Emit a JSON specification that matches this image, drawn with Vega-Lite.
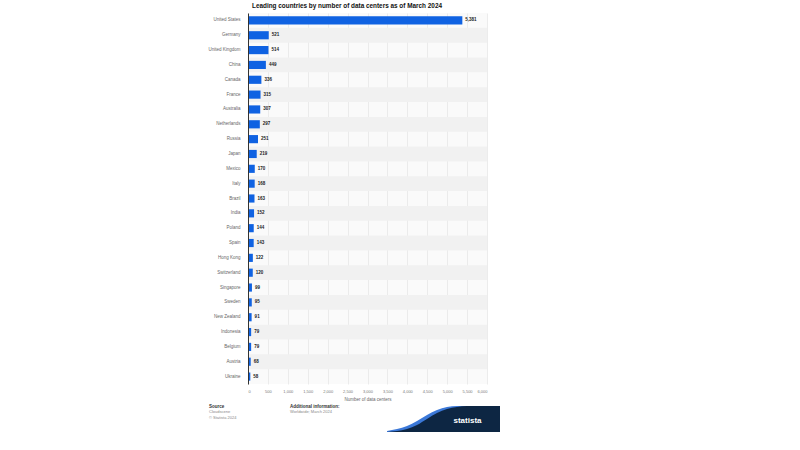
{
  "$schema": "https://vega.github.io/schema/vega-lite/v6.json",
  "background": "white",
  "padding": {"left": 207, "top": 2, "right": 0, "bottom": 0},
  "title": {
    "text": "Leading countries by number of data centers as of March 2024",
    "fontSize": 6.4,
    "font": "Liberation Sans",
    "fontWeight": "bold",
    "color": "#111111",
    "anchor": "middle",
    "frame": "bounds",
    "dx": -7,
    "offset": 4
  },
  "config": {
    "font": "Liberation Sans",
    "view": {"stroke": null}
  },
  "spacing": 2,
  "vconcat": [
    {
      "width": 239,
      "height": 371,
      "view": {"fill": "#fafafa"},
      "data": {
        "values": [
          {"country": "United States", "centers": 5381},
          {"country": "Germany", "centers": 521},
          {"country": "United Kingdom", "centers": 514},
          {"country": "China", "centers": 449},
          {"country": "Canada", "centers": 336},
          {"country": "France", "centers": 315},
          {"country": "Australia", "centers": 307},
          {"country": "Netherlands", "centers": 297},
          {"country": "Russia", "centers": 251},
          {"country": "Japan", "centers": 219},
          {"country": "Mexico", "centers": 170},
          {"country": "Italy", "centers": 168},
          {"country": "Brazil", "centers": 163},
          {"country": "India", "centers": 152},
          {"country": "Poland", "centers": 144},
          {"country": "Spain", "centers": 143},
          {"country": "Hong Kong", "centers": 122},
          {"country": "Switzerland", "centers": 120},
          {"country": "Singapore", "centers": 99},
          {"country": "Sweden", "centers": 95},
          {"country": "New Zealand", "centers": 91},
          {"country": "Indonesia", "centers": 79},
          {"country": "Belgium", "centers": 79},
          {"country": "Austria", "centers": 68},
          {"country": "Ukraine", "centers": 58}
        ]
      },
      "encoding": {
        "y": {
          "field": "country",
          "type": "nominal",
          "sort": null,
          "scale": {
            "domain": ["United States", "Germany", "United Kingdom", "China", "Canada", "France", "Australia", "Netherlands", "Russia", "Japan", "Mexico", "Italy", "Brazil", "India", "Poland", "Spain", "Hong Kong", "Switzerland", "Singapore", "Sweden", "New Zealand", "Indonesia", "Belgium", "Austria", "Ukraine"],
            "paddingInner": 0,
            "paddingOuter": 0
          },
          "axis": {
            "title": null,
            "labelFontSize": 4.5,
            "labelColor": "#666666",
            "labelPadding": 8,
            "labelLimit": 200,
            "ticks": false,
            "domain": true,
            "domainColor": "#333333",
            "domainWidth": 1,
            "grid": false
          }
        }
      },
      "layer": [
        {
          "transform": [
            {"filter": {"field": "country", "oneOf": ["Germany", "China", "France", "Netherlands", "Japan", "Italy", "India", "Spain", "Switzerland", "Sweden", "Indonesia", "Austria"]}}
          ],
          "mark": {"type": "rect", "color": "#f1f1f1"},
          "encoding": {}
        },
        {
          "mark": {"type": "bar", "color": "#0f62e2", "height": {"band": 0.55}},
          "encoding": {
            "x": {
              "field": "centers",
              "type": "quantitative",
              "title": "Number of data centers",
              "scale": {"domain": [0, 6000], "nice": false},
              "axis": {
                "values": [0, 500, 1000, 1500, 2000, 2500, 3000, 3500, 4000, 4500, 5000, 5500, 6000],
                "format": ",.0f",
                "grid": true,
                "gridColor": "#e4e4e4",
                "gridWidth": 0.7,
                "ticks": false,
                "domain": false,
                "labelFontSize": 4,
                "labelColor": "#777777",
                "labelPadding": 5,
                "labelFlush": true,
                "titleFontSize": 4.5,
                "titleColor": "#666666",
                "titleFontWeight": "normal",
                "titlePadding": 3
              }
            }
          }
        },
        {
          "mark": {"type": "text", "align": "left", "baseline": "middle", "dx": 3, "fontSize": 4.5, "fontWeight": "bold", "color": "#222222"},
          "encoding": {
            "x": {
              "field": "centers",
              "type": "quantitative",
              "title": "Number of data centers",
              "scale": {"domain": [0, 6000], "nice": false},
              "axis": {
                "values": [0, 500, 1000, 1500, 2000, 2500, 3000, 3500, 4000, 4500, 5000, 5500, 6000],
                "format": ",.0f",
                "grid": true,
                "gridColor": "#e4e4e4",
                "gridWidth": 0.7,
                "ticks": false,
                "domain": false,
                "labelFontSize": 4,
                "labelColor": "#777777",
                "labelPadding": 5,
                "labelFlush": true,
                "titleFontSize": 4.5,
                "titleColor": "#666666",
                "titleFontWeight": "normal",
                "titlePadding": 3
              }
            },
            "text": {"field": "centers", "type": "quantitative", "format": ",.0f"}
          }
        }
      ]
    },
    {
      "spacing": 2,
      "hconcat": [
        {
          "width": 40,
          "height": 1,
          "data": {"values": []},
          "mark": "rect",
          "encoding": {},
          "title": {
            "text": "Source",
            "subtitle": ["Cloudscene", "© Statista 2024"],
            "orient": "bottom",
            "anchor": "start",
            "dx": -39,
            "offset": 0,
            "fontSize": 4.5,
            "fontWeight": "bold",
            "color": "#333333",
            "subtitleFontSize": 4,
            "subtitleColor": "#888888",
            "subtitlePadding": 1
          }
        },
        {
          "width": 95,
          "height": 1,
          "data": {"values": []},
          "mark": "rect",
          "encoding": {},
          "title": {
            "text": "Additional information:",
            "subtitle": ["Worldwide; March 2024"],
            "orient": "bottom",
            "anchor": "start",
            "offset": 0,
            "fontSize": 4.5,
            "fontWeight": "bold",
            "color": "#333333",
            "subtitleFontSize": 4,
            "subtitleColor": "#888888",
            "subtitlePadding": 1
          }
        },
        {
          "width": 113,
          "height": 29,
          "data": {
            "values": [
              {"x": 0, "top": 0, "ribbon": 1},
              {"x": 10, "top": 1, "ribbon": 3},
              {"x": 20, "top": 3, "ribbon": 6},
              {"x": 30, "top": 7, "ribbon": 11},
              {"x": 40, "top": 13, "ribbon": 17},
              {"x": 50, "top": 19, "ribbon": 22},
              {"x": 60, "top": 23, "ribbon": 25},
              {"x": 70, "top": 25, "ribbon": 26},
              {"x": 80, "top": 26, "ribbon": 26},
              {"x": 113, "top": 26, "ribbon": 26}
            ]
          },
          "layer": [
            {
              "mark": {"type": "area", "color": "#3b78d8", "interpolate": "monotone"},
              "encoding": {
                "x": {"field": "x", "type": "quantitative", "axis": null, "scale": {"domain": [0, 113], "nice": false}},
                "y": {"field": "ribbon", "type": "quantitative", "axis": null, "scale": {"domain": [0, 29], "nice": false}}
              }
            },
            {
              "mark": {"type": "area", "color": "#0d2643", "interpolate": "monotone"},
              "encoding": {
                "x": {"field": "x", "type": "quantitative"},
                "y": {"field": "top", "type": "quantitative"}
              }
            },
            {
              "data": {"values": [{"label": "statista"}]},
              "mark": {"type": "text", "color": "white", "fontSize": 8, "fontWeight": "bold", "dx": 24, "dy": 3},
              "encoding": {"text": {"field": "label"}}
            }
          ]
        }
      ]
    }
  ]
}
